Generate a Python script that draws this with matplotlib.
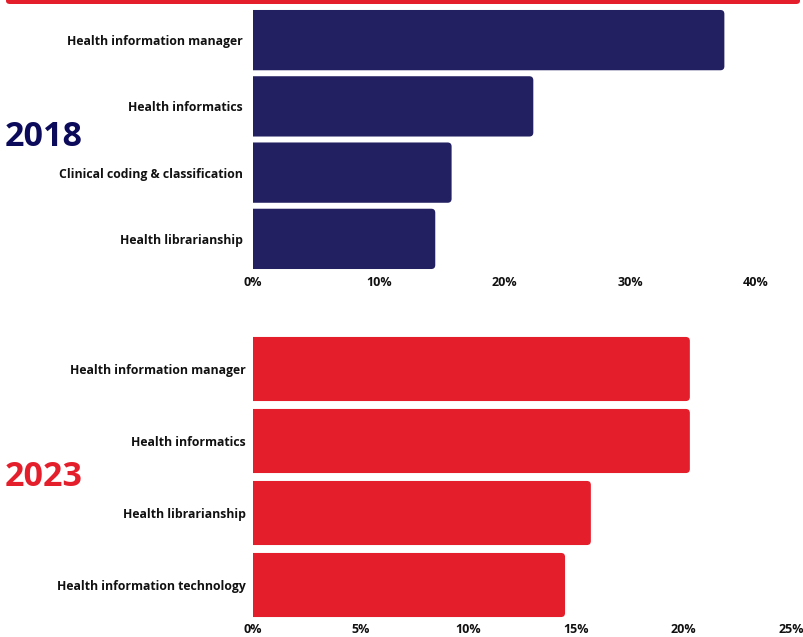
import matplotlib.pyplot as plt
from matplotlib.patches import FancyBboxPatch

# data
roles_2018 = ["Health information manager", "Health informatics",
              "Clinical coding & classification", "Health librarianship"]
share_2018 = [37.5, 22.3, 15.8, 14.5]
ticks_2018 = [0, 10, 20, 30, 40]

roles_2023 = ["Health information manager", "Health informatics",
              "Health librarianship", "Health information technology"]
share_2023 = [20.3, 20.3, 15.7, 14.5]
ticks_2023 = [0, 5, 10, 15, 20, 25]

NAVY = "#222060"
RED = "#e41e2b"
W, H = 804, 637

plt.rcParams['font.family'] = ['Open Sans', 'DejaVu Sans']

fig = plt.figure(figsize=(W / 100, H / 100), dpi=100)


def px_axes(left, top, right, bottom):
    return fig.add_axes([left / W, 1 - bottom / H, (right - left) / W, (bottom - top) / H])


def draw_panel(ax, labels, values, ticks, xmax, color, height, ax_px, ypad, xpad):
    ax_w, ax_h = ax_px
    n = len(values)
    ax.set_xlim(0, xmax)
    ax.set_ylim(n - 0.5, -0.5)
    # px per data unit
    sx = ax_w / xmax
    sy = ax_h / n
    r = 4.0 / sx
    for i, v in enumerate(values):
        start = -1.0
        p = FancyBboxPatch((start, i - height / 2), v - start, height,
                           boxstyle="round,pad=0,rounding_size=%f" % r,
                           mutation_aspect=sx / sy,
                           facecolor=color, edgecolor="none", clip_on=True)
        ax.add_patch(p)
    ax.set_yticks(range(n))
    ax.set_yticklabels(labels, fontsize=8.8, fontweight="bold", color="#111111")
    ax.set_xticks(ticks)
    ax.set_xticklabels([str(t) + "%" for t in ticks], fontsize=9, fontweight="bold",
                       color="#111111")
    ax.tick_params(length=0, axis="y", pad=ypad)
    ax.tick_params(length=0, axis="x", pad=xpad)
    for s in ax.spines.values():
        s.set_visible(False)


# top panel (2018)
ax1 = px_axes(253, 7, 804, 272)
draw_panel(ax1, roles_2018, share_2018, ticks_2018, 551 / 12.57, NAVY, 0.91, (551, 265), 7.5, 3)

# bottom panel (2023)
ax2 = px_axes(253, 333, 791, 621)
draw_panel(ax2, roles_2023, share_2023, ticks_2023, 25, RED, 0.89, (538, 288), 5, 1.5)

fig.text(5 / W, 1 - 137 / H, "2018", fontsize=24.5, fontweight="bold", color="#0c0a5a",
         va="center", ha="left")
fig.text(5 / W, 1 - 477 / H, "2023", fontsize=24.5, fontweight="bold", color=RED,
         va="center", ha="left")

# red band across the top
band = FancyBboxPatch((6 / W, 1 - 4 / H), 794 / W, 8 / H,
                      boxstyle="round,pad=0,rounding_size=0.005",
                      transform=fig.transFigure, facecolor=RED, edgecolor="none")
fig.patches.append(band)

fig.savefig("out.png", dpi=100)
